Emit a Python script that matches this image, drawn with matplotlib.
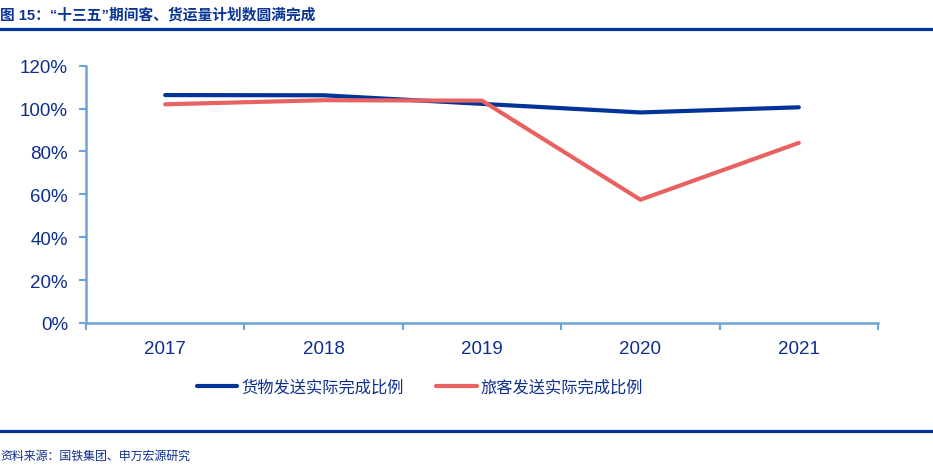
import matplotlib
matplotlib.use("Agg")
import matplotlib.pyplot as plt
from matplotlib.lines import Line2D

plt.rcParams['font.family'] = ['Liberation Sans', 'Noto Sans CJK SC', 'DejaVu Sans']

years = ['2017', '2018', '2019', '2020', '2021']
freight = [106.3, 106.2, 102.2, 98.2, 100.6]
passenger = [102.0, 103.9, 103.7, 57.5, 84.0]
yticks = [0, 20, 40, 60, 80, 100, 120]
series_names = ['货物发送实际完成比例', '旅客发送实际完成比例']
title = '图 15：“十三五”期间客、货运量计划数圆满完成'
source = '资料来源：国铁集团、申万宏源研究'

W, H = 933, 477
fig = plt.figure(figsize=(W / 100, H / 100), dpi=100)
ax = fig.add_axes([86 / W, 1 - 324 / H, (878 - 86) / W, (324 - 66.7) / H])

BLUE = '#023399'
RED = '#E86262'
AXC = '#6FA3D8'
TXT = '#0E2E8E'
CJK = ['Noto Sans CJK SC', 'DejaVu Sans']

x = list(range(len(years)))
ax.plot(x, freight, color=BLUE, lw=3.0, solid_capstyle='round', zorder=3)
ax.plot(x, passenger, color=RED, lw=3.0, solid_capstyle='round', zorder=3)

ax.set_xlim(-0.5, len(years) - 0.5)
ax.set_ylim(0, 120)
ax.set_yticks(yticks)
ax.set_yticklabels([f'{v}%' for v in yticks])
ax.set_xticks(x)
ax.set_xticklabels(years)
ax.set_xticks([i - 0.5 for i in range(len(years) + 1)], minor=True)
ax.tick_params(axis='x', which='major', length=0, pad=12, labelsize=13.5, labelcolor=TXT)
ax.tick_params(axis='x', which='minor', length=5, width=1.5, color=AXC)
ax.tick_params(axis='y', length=5, width=1.5, color=AXC, pad=8, labelsize=13.5, labelcolor=TXT)

for s in ['top', 'right']:
    ax.spines[s].set_visible(False)
for s in ['left', 'bottom']:
    ax.spines[s].set_color(AXC)
    ax.spines[s].set_linewidth(1.8)

handles = [Line2D([], [], color=BLUE, lw=3.0, solid_capstyle='round'),
           Line2D([], [], color=RED, lw=3.0, solid_capstyle='round')]
leg = fig.legend(handles, series_names, loc='center', bbox_to_anchor=(420 / W, 1 - 388 / H),
                 ncol=2, frameon=False, handlelength=2.5, handletextpad=0.25,
                 columnspacing=2.0, prop={'family': CJK, 'size': 11.7})
for t in leg.get_texts():
    t.set_color(TXT)

# title
fig.text(0, 1 - 15 / H, title, ha='left', va='center', fontsize=10.6,
         fontweight='bold', color='#0B3595',
         family=['Liberation Sans', 'Noto Sans CJK SC', 'DejaVu Sans'])
fig.add_artist(Line2D([0, 1], [1 - 29.5 / H, 1 - 29.5 / H], transform=fig.transFigure,
                      color='#023399', lw=2.3))
# footer
fig.add_artist(Line2D([0, 1], [1 - 432 / H, 1 - 432 / H], transform=fig.transFigure,
                      color='#023399', lw=2.3))
fig.text(0, 1 - 456 / H, source, ha='left', va='center', fontsize=8.6,
         color='#0E2E8E', family=CJK)

fig.savefig('out.png', dpi=100)
